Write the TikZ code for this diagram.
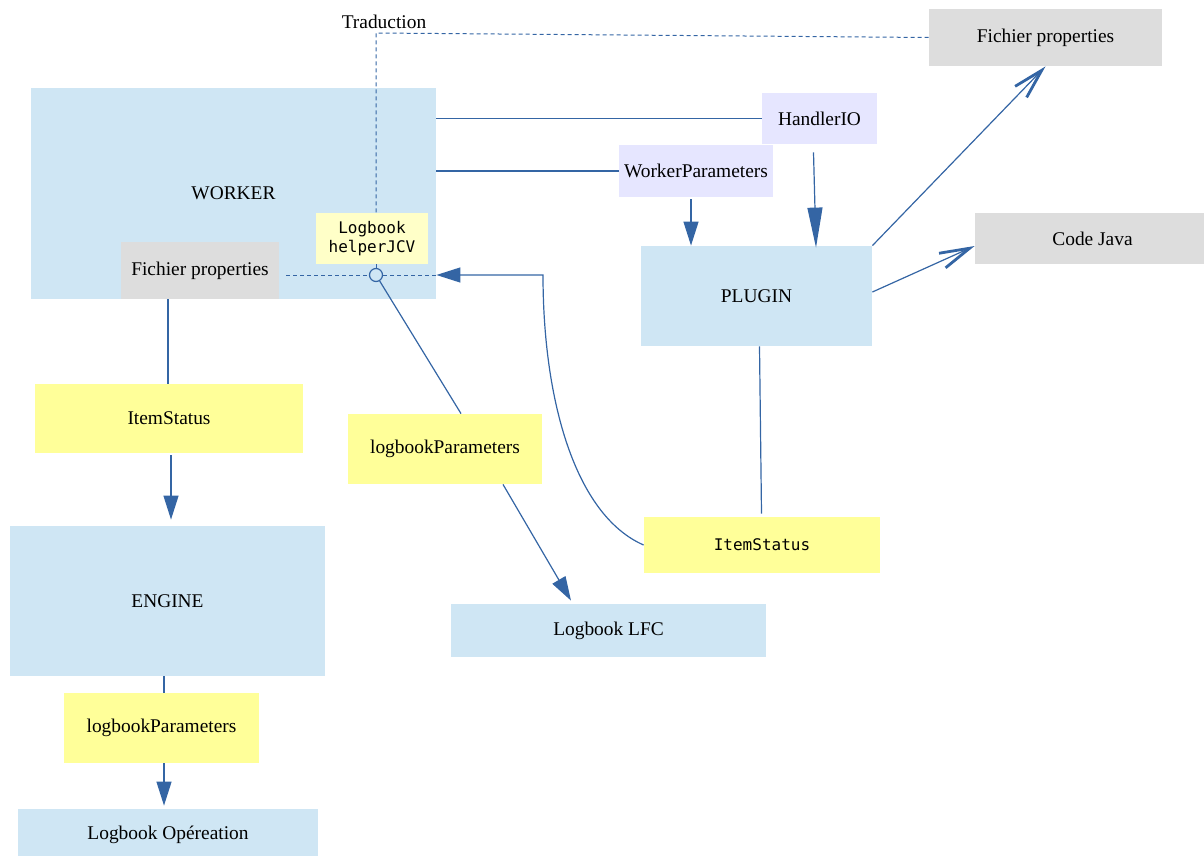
\documentclass[tikz,border=0pt]{standalone}
\usepackage{fontspec}
\setmainfont{Liberation Serif}
\setmonofont{DejaVu Sans Mono}
\usetikzlibrary{arrows.meta,positioning}
\definecolor{boxblue}{HTML}{CFE6F4}
\definecolor{boxyellow}{HTML}{FFFF99}
\definecolor{paleyellow}{HTML}{FFFFC8}
\definecolor{boxgray}{HTML}{DDDDDD}
\definecolor{boxlavender}{HTML}{E6E6FF}
\definecolor{linkblue}{HTML}{3465A4}
\tikzset{
	sz/.style 2 args={minimum width=#1*0.5pt, minimum height=#2*0.5pt},
	box/.style={inner sep=0pt, font=\fontsize{9.7}{11.6}\selectfont},
	bluebox/.style={box, fill=boxblue},
	yellowbox/.style={box, fill=boxyellow},
	graybox/.style={box, fill=boxgray},
	lavbox/.style={box, fill=boxlavender},
	monobox/.style={box, fill=paleyellow, align=center, font=\fontsize{8}{9.6}\ttfamily},
	link/.style={draw=linkblue, line width=0.6pt},
	dashlink/.style={link, line width=0.5pt, dash pattern=on 2pt off 1.5pt},
	fillarrow/.style={link, -{Triangle[length=12pt, width=7.5pt]}},
	bigarrow/.style={link, -{Triangle[length=20pt, width=7.5pt]}},
	openarrow/.style={link, -{Straight Barb[length=15pt, width=8pt, line width=1.4pt]}},
}

\begin{document}
\begin{tikzpicture}[
		x=0.5pt,
		y=-0.5pt
	]
	\useasboundingbox (0,0) rectangle (1204,856);
	\node[bluebox, sz={405}{211}] (worker) at (233.5,193.5) {WORKER};
	\node[graybox, sz={158}{57}] (fichW) at (200,270.5) {Fichier properties};
	\node[monobox, sz={112}{51}] (helper) at (372,238.5) {Logbook\\helperJCV};
	\node[draw=linkblue, line width=0.6pt, circle, inner sep=0pt, minimum size=6.5pt] (circ) at (376,275) {};
	\node[box] (trad) at (384,22) {Traduction};
	\coordinate (corner) at (376,33);
	\node[graybox, sz={233}{57}] (fichTop) at (1045.5,37.5) {Fichier properties};
	\node[lavbox, sz={115}{51}] (handler) at (819.5,118.5) {HandlerIO};
	\node[lavbox, sz={154}{52}] (wparams) at (696,171) {WorkerParameters};
	\node[bluebox, sz={231}{100}] (plugin) at (756.5,296) {PLUGIN};
	\node[graybox, sz={235}{51}] (codeJava) at (1092.5,238.5) {Code Java};
	\node[monobox, fill=boxyellow, sz={236}{56}] (isR) at (762,545) {ItemStatus};
	\node[yellowbox, sz={268}{69}] (isL) at (169,418.5) {ItemStatus};
	\node[bluebox, sz={315}{150}] (engine) at (167.5,601) {ENGINE};
	\node[yellowbox, sz={194}{70}] (lpM) at (445,449) {logbookParameters};
	\node[bluebox, sz={315}{53}] (lfc) at (608.5,630.5) {Logbook LFC};
	\node[yellowbox, sz={195}{70}] (lpL) at (161.5,728) {logbookParameters};
	\node[bluebox, sz={300}{52}] (logOp) at (168,835) {Logbook Opéreation};

	\draw[dashlink] (fichTop.west) -- (corner) -- (corner |- helper.north);
	\draw[dashlink] (helper.south -| circ) -- (circ.north);
	\draw[dashlink] ([xshift=3.5pt]fichW.east |- circ) -- (circ.west);
	\draw[dashlink] (circ.east) -- (circ -| worker.east);
	\draw[link] (handler.west -| worker.east) -- (handler.west);
	\draw[link] (wparams.west -| worker.east) -- (wparams.west);
	\draw[fillarrow] ([xshift=-2.5pt,yshift=-1pt]wparams.south) -- ([xshift=-2.5pt]wparams.south |- plugin.north);
	\draw[bigarrow] ([xshift=-3pt,yshift=-4pt]handler.south) -- ([xshift=29.75pt,yshift=-1pt]plugin.north);
	\draw[openarrow] (plugin.north east) -- (fichTop.south);
	\draw[openarrow] ([yshift=2pt]plugin.east) -- ([yshift=-3.75pt]codeJava.west);
	\draw[link] ([xshift=1.5pt]plugin.south) -- ([xshift=2.5pt,yshift=1.5pt]plugin.south |- isR.north);
	\draw[fillarrow] (isR.west) .. controls (575,515) and (543,400) .. (543,275) -- (circ -| worker.east);
	\draw[link] (circ) -- ([xshift=8pt]lpM.north);
	\draw[fillarrow] ([xshift=29pt]lpM.south) -- ([xshift=-18.75pt,yshift=1.5pt]lfc.north);
	\draw[link] ([xshift=-16pt]fichW.south) -- ([xshift=-16pt]fichW.south |- isL.north);
	\draw[fillarrow] ([xshift=1pt,yshift=-1pt]isL.south) -- ([xshift=1pt,yshift=3pt]isL.south |- engine.north);
	\draw[link] ([xshift=1.25pt]lpL.north |- engine.south) -- ([xshift=1.25pt]lpL.north);
	\draw[fillarrow] ([xshift=1.25pt]lpL.south) -- ([xshift=1.25pt,yshift=1.5pt]lpL.south |- logOp.north);
\end{tikzpicture}
\end{document}
